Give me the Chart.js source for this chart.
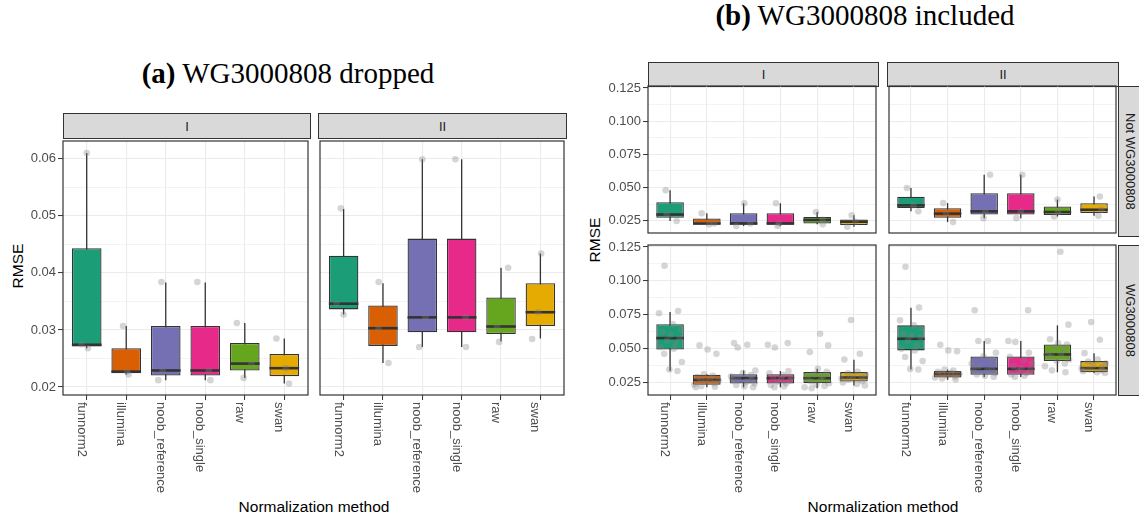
<!DOCTYPE html>
<html>
<head>
<meta charset="utf-8">
<script src="https://cdn.jsdelivr.net/npm/chart.js@4.4.0/dist/chart.umd.min.js"></script>
<style>
  body { margin: 0; background: #fff; }
  #page { position: relative; width: 1139px; height: 517px; overflow: hidden; font-family: "Liberation Sans", Arial, sans-serif; }
  canvas { position: absolute; }
  .title { position: absolute; font-family: "Liberation Serif", "Times New Roman", serif; font-size: 29px; line-height: 29px; white-space: nowrap; transform: translateX(-50%); color: #000; }
  .strip { position: absolute; box-sizing: border-box; background: #D9D9D9; border: 1px solid #333; color: #1A1A1A; font-size: 13px; display: flex; align-items: center; justify-content: center; }
  .side { writing-mode: vertical-rl; }
  .axis-title { position: absolute; font-size: 15.5px; color: #000; white-space: nowrap; transform: translate(-50%, -50%); }
</style>
</head>
<body>
<div id="page">
  <div class="title" style="left:288px; top:59px;"><b>(a)</b> WG3000808 dropped</div>
  <div class="title" style="left:865px; top:1px;"><b>(b)</b> WG3000808 included</div>

  <div class="strip" style="left:63px; top:113px; width:248px; height:26px;">I</div>
  <div class="strip" style="left:318px; top:113px; width:249px; height:26px;">II</div>
  <div class="strip" style="left:648px; top:62px; width:231px; height:25px;">I</div>
  <div class="strip" style="left:887px; top:62px; width:232px; height:25px;">II</div>
  <div class="strip side" style="left:1118px; top:86px; width:24px; height:151px;">Not WG3000808</div>
  <div class="strip side" style="left:1118px; top:245px; width:24px; height:151px;">WG3000808</div>

  <div class="axis-title" style="left:18px; top:266px; transform: translate(-50%,-50%) rotate(-90deg);">RMSE</div>
  <div class="axis-title" style="left:595px; top:240px; transform: translate(-50%,-50%) rotate(-90deg);">RMSE</div>
  <div class="axis-title" style="left:314px; top:507px;">Normalization method</div>
  <div class="axis-title" style="left:883px; top:507px;">Normalization method</div>

  <canvas id="aI" width="312" height="380" style="left:0px; top:137px;"></canvas>
  <canvas id="aII" width="252" height="380" style="left:316px; top:137px;"></canvas>
  <canvas id="bIt" width="300" height="162" style="left:580px; top:75px;"></canvas>
  <canvas id="bIIt" width="235" height="162" style="left:885px; top:75px;"></canvas>
  <canvas id="bIb" width="300" height="282" style="left:580px; top:235px;"></canvas>
  <canvas id="bIIb" width="235" height="282" style="left:885px; top:235px;"></canvas>
</div>

<script>
const FONT = '"Liberation Sans", Arial, sans-serif'

const categories = ['funnorm2', 'illumina', 'noob_reference', 'noob_single', 'raw', 'swan']
const boxColors = ['#1B9E77', '#D95F02', '#7570B3', '#E7298A', '#66A61E', '#E6AB02']

// y axis of figure (a)
const yMajorA = [0.02, 0.03, 0.04, 0.05, 0.06]
const yLabelsA = ['0.02', '0.03', '0.04', '0.05', '0.06']
const yMinorA = [0.025, 0.035, 0.045, 0.055]
const yRangeA = [0.0186, 0.0631]

// y axis of figure (b)
const yMajorB = [0.025, 0.05, 0.075, 0.1, 0.125]
const yLabelsB = ['0.025', '0.050', '0.075', '0.100', '0.125']
const yMinorB = [0.0375, 0.0625, 0.0875, 0.1125]
const yRangeB = [0.0158, 0.1265]

// box stats: [lower whisker, q1, median, q3, upper whisker]
const droppedI_stats = [
  [0.0268, 0.0271, 0.0274, 0.0443, 0.0610],
  [0.0222, 0.0224, 0.0227, 0.0268, 0.0307],
  [0.0212, 0.0220, 0.0229, 0.0307, 0.0383],
  [0.0212, 0.0220, 0.0229, 0.0307, 0.0383],
  [0.0216, 0.0229, 0.0241, 0.0277, 0.0312],
  [0.0206, 0.0219, 0.0233, 0.0258, 0.0285]
]
const droppedI_points = [
  [0.0610, 0.0275, 0.0268],
  [0.0307, 0.0227, 0.0222],
  [0.0384, 0.0229, 0.0212],
  [0.0384, 0.0229, 0.0212],
  [0.0312, 0.0241, 0.0216],
  [0.0285, 0.0233, 0.0206]
]
const droppedI_jitter = [
  [0.0, -0.13, 0.03],
  [-0.08, 0.02, 0.06],
  [-0.11, -0.08, -0.19],
  [-0.2, 0.09, 0.13],
  [-0.2, 0.17, -0.03],
  [-0.2, 0.04, 0.12]
]

const droppedII_stats = [
  [0.0327, 0.0336, 0.0346, 0.0430, 0.0512],
  [0.0242, 0.0272, 0.0303, 0.0343, 0.0382],
  [0.0270, 0.0296, 0.0322, 0.0460, 0.0599],
  [0.0270, 0.0296, 0.0322, 0.0460, 0.0599],
  [0.0280, 0.0293, 0.0306, 0.0357, 0.0409],
  [0.0285, 0.0307, 0.0331, 0.0382, 0.0434]
]
const droppedII_points = [
  [0.0513, 0.0346, 0.0327],
  [0.0384, 0.0303, 0.0242],
  [0.0599, 0.0322, 0.0270],
  [0.0599, 0.0322, 0.0270],
  [0.0409, 0.0306, 0.0279],
  [0.0434, 0.0331, 0.0284]
]
const droppedII_jitter = [
  [-0.07, -0.18, 0.0],
  [-0.11, -0.11, 0.14],
  [0.0, 0.08, -0.08],
  [-0.16, 0.1, 0.11],
  [0.18, -0.1, -0.05],
  [0.02, -0.06, -0.21]
]

const notWgI_stats = [
  [0.0248, 0.0272, 0.0297, 0.0390, 0.0480],
  [0.0222, 0.0226, 0.0229, 0.0267, 0.0306],
  [0.0211, 0.0221, 0.0230, 0.0307, 0.0382],
  [0.0211, 0.0221, 0.0230, 0.0307, 0.0382],
  [0.0223, 0.0230, 0.0257, 0.0279, 0.0316],
  [0.0206, 0.0218, 0.0243, 0.0260, 0.0292]
]
const notWgI_points = [
  [0.0480, 0.0297, 0.0248],
  [0.0306, 0.0229, 0.0222],
  [0.0382, 0.0230, 0.0211],
  [0.0382, 0.0230, 0.0211],
  [0.0316, 0.0257, 0.0223],
  [0.0292, 0.0243, 0.0206]
]
const notWgI_jitter = [
  [-0.12, -0.09, 0.18],
  [-0.14, 0.2, 0.06],
  [0.02, 0.18, -0.2],
  [-0.12, -0.04, -0.08],
  [-0.03, 0.15, 0.15],
  [-0.06, 0.04, -0.18]
]

const notWgII_stats = [
  [0.0321, 0.0346, 0.0366, 0.0431, 0.0497],
  [0.0240, 0.0272, 0.0304, 0.0345, 0.0383],
  [0.0270, 0.0297, 0.0321, 0.0458, 0.0597],
  [0.0270, 0.0297, 0.0321, 0.0458, 0.0597],
  [0.0282, 0.0294, 0.0316, 0.0358, 0.0410],
  [0.0288, 0.0309, 0.0333, 0.0382, 0.0433]
]
const notWgII_points = [
  [0.0497, 0.0366, 0.0321],
  [0.0383, 0.0304, 0.0240],
  [0.0597, 0.0321, 0.0270],
  [0.0597, 0.0321, 0.0270],
  [0.0410, 0.0316, 0.0282],
  [0.0433, 0.0333, 0.0288]
]
const notWgII_jitter = [
  [-0.11, 0.07, 0.2],
  [-0.12, -0.04, 0.15],
  [0.16, 0.03, -0.02],
  [0.04, 0.0, -0.12],
  [0.0, 0.02, -0.09],
  [0.16, 0.2, 0.12]
]

const wgI_stats = [
  [0.0335, 0.0494, 0.0578, 0.0680, 0.0771],
  [0.0215, 0.0233, 0.0270, 0.0307, 0.0312],
  [0.0215, 0.0243, 0.0282, 0.0312, 0.0339],
  [0.0215, 0.0243, 0.0282, 0.0312, 0.0335],
  [0.0208, 0.0245, 0.0282, 0.0327, 0.0351],
  [0.0228, 0.0257, 0.0287, 0.0327, 0.0418]
]
const wgI_points = [
  [0.1112, 0.0778, 0.0761, 0.0680, 0.0643, 0.0623, 0.0603, 0.0578, 0.0560, 0.0536, 0.0512, 0.0499, 0.0462, 0.0401, 0.0346, 0.0335],
  [0.0524, 0.0494, 0.0462, 0.0310, 0.0300, 0.0290, 0.0280, 0.0272, 0.0265, 0.0255, 0.0245, 0.0235, 0.0225, 0.0218, 0.0215],
  [0.0541, 0.0529, 0.0509, 0.0339, 0.0320, 0.0305, 0.0295, 0.0285, 0.0278, 0.0268, 0.0255, 0.0245, 0.0232, 0.0222, 0.0215],
  [0.0541, 0.0529, 0.0509, 0.0335, 0.0318, 0.0305, 0.0293, 0.0285, 0.0276, 0.0266, 0.0255, 0.0244, 0.0232, 0.0222, 0.0215],
  [0.0610, 0.0524, 0.0475, 0.0351, 0.0330, 0.0310, 0.0295, 0.0282, 0.0270, 0.0258, 0.0245, 0.0235, 0.0225, 0.0215, 0.0208],
  [0.0712, 0.0462, 0.0420, 0.0330, 0.0318, 0.0305, 0.0295, 0.0287, 0.0280, 0.0270, 0.0260, 0.0250, 0.0240, 0.0228]
]

const wgII_stats = [
  [0.0346, 0.0487, 0.0573, 0.0672, 0.0801],
  [0.0270, 0.0287, 0.0314, 0.0336, 0.0346],
  [0.0290, 0.0307, 0.0351, 0.0443, 0.0556],
  [0.0290, 0.0307, 0.0351, 0.0443, 0.0556],
  [0.0326, 0.0408, 0.0457, 0.0531, 0.0672],
  [0.0320, 0.0326, 0.0356, 0.0408, 0.0467]
]
const wgII_points = [
  [0.1104, 0.0803, 0.0709, 0.0672, 0.0650, 0.0610, 0.0598, 0.0586, 0.0560, 0.0524, 0.0500, 0.0487, 0.0438, 0.0408, 0.0350, 0.0346],
  [0.0529, 0.0487, 0.0480, 0.0346, 0.0338, 0.0330, 0.0322, 0.0316, 0.0310, 0.0302, 0.0295, 0.0287, 0.0280, 0.0272],
  [0.0783, 0.0556, 0.0556, 0.0470, 0.0443, 0.0420, 0.0390, 0.0370, 0.0355, 0.0345, 0.0335, 0.0320, 0.0310, 0.0300, 0.0292],
  [0.0783, 0.0556, 0.0550, 0.0470, 0.0440, 0.0415, 0.0392, 0.0372, 0.0355, 0.0345, 0.0333, 0.0320, 0.0310, 0.0300, 0.0292],
  [0.1215, 0.0677, 0.0569, 0.0540, 0.0531, 0.0510, 0.0490, 0.0465, 0.0455, 0.0440, 0.0420, 0.0408, 0.0390, 0.0371, 0.0340, 0.0326],
  [0.0696, 0.0566, 0.0467, 0.0420, 0.0405, 0.0390, 0.0375, 0.0362, 0.0355, 0.0348, 0.0340, 0.0333, 0.0326, 0.0320]
]

// fixed jitter offsets (category units) for the many-point panels
const jitterPattern = [-0.15, 0.22, -0.3, 0.08, 0.3, -0.2, 0.02, 0.26, -0.08, 0.16, -0.26, 0.1, -0.16, 0.32, -0.02, 0.2, -0.34]

function patternJitter(points) {
  return points.map((vals, i) => vals.map((v, j) => jitterPattern[(j + 5 * i) % jitterPattern.length]))
}

// draws median lines, the panel frame and the rotated category labels
const panelExtras = {
  id: 'panelExtras',
  afterDatasetDraw(chart, args, opts) {
    if (args.index !== 1) return
    const ctx = chart.ctx
    const y = chart.scales.y
    ctx.save()
    ctx.strokeStyle = '#333333'
    ctx.lineWidth = 2.6
    args.meta.data.forEach((bar, i) => {
      const py = y.getPixelForValue(opts.medians[i])
      ctx.beginPath()
      ctx.moveTo(bar.x - bar.width / 2, py)
      ctx.lineTo(bar.x + bar.width / 2, py)
      ctx.stroke()
    })
    ctx.restore()
  },
  afterDraw(chart, args, opts) {
    const ctx = chart.ctx
    const a = chart.chartArea
    ctx.save()
    ctx.strokeStyle = '#333333'
    ctx.lineWidth = 1.2
    ctx.strokeRect(a.left, a.top, a.right - a.left, a.bottom - a.top)
    if (opts.xLabels) {
      const xs = chart.scales.x
      ctx.fillStyle = '#4D4D4D'
      ctx.font = '13px ' + FONT
      ctx.textAlign = 'left'
      ctx.textBaseline = 'top'
      categories.forEach((c, i) => {
        ctx.save()
        ctx.translate(xs.getPixelForValue(i) + 1, a.bottom + 7)
        ctx.rotate(Math.PI / 2)
        ctx.fillText(c, 0, 0)
        ctx.restore()
      })
    }
    ctx.restore()
  }
}

function drawPanel(id, p) {
  const ctx = document.getElementById(id).getContext('2d')
  const allY = p.yMajor.concat(p.yMinor).sort((a, b) => a - b)
  const isMajor = v => p.yMajor.indexOf(v) >= 0

  const pointData = []
  p.points.forEach((vals, i) => vals.forEach((v, j) => pointData.push({ x: i + p.jitter[i][j], y: v })))

  return new Chart(ctx, {
    type: 'bar',
    data: {
      datasets: [
        {
          type: 'bar',
          data: p.stats.map((s, i) => ({ x: i, y: [s[0], s[4]] })),
          backgroundColor: '#333333',
          borderWidth: 0,
          maxBarThickness: 1.3,
          grouped: false,
          order: 3
        },
        {
          type: 'bar',
          data: p.stats.map((s, i) => ({ x: i, y: [s[1], s[3]] })),
          backgroundColor: boxColors,
          borderColor: '#333333',
          borderWidth: 1.3,
          borderSkipped: false,
          grouped: false,
          categoryPercentage: 1,
          barPercentage: 0.75,
          order: 2
        },
        {
          type: 'scatter',
          data: pointData,
          pointRadius: 3.3,
          pointBackgroundColor: 'rgba(127,127,127,0.33)',
          pointBorderWidth: 0,
          order: 1
        }
      ]
    },
    options: {
      responsive: false,
      animation: false,
      devicePixelRatio: 1,
      events: [],
      layout: { padding: { top: p.padTop, right: 2, left: 0, bottom: 0 } },
      plugins: {
        legend: { display: false },
        tooltip: { enabled: false },
        panelExtras: { medians: p.stats.map(s => s[2]), xLabels: p.xLabels }
      },
      scales: {
        x: {
          type: 'linear',
          min: -0.6,
          max: 5.6,
          offset: false,
          afterBuildTicks: axis => { axis.ticks = categories.map((c, i) => ({ value: i })) },
          afterFit: axis => { axis.height = p.xHeight; axis.paddingLeft = 0; axis.paddingRight = 0 },
          ticks: { display: false, autoSkip: false },
          grid: { offset: false, color: '#EBEBEB', lineWidth: 1.1, drawTicks: p.xLabels, tickLength: 5, tickColor: '#333333', tickWidth: 1 },
          border: { display: false }
        },
        y: {
          type: 'linear',
          min: p.yRange[0],
          max: p.yRange[1],
          afterBuildTicks: axis => { axis.ticks = allY.map(v => ({ value: v })) },
          afterFit: axis => { axis.width = p.yWidth; axis.paddingTop = 0; axis.paddingBottom = 0 },
          ticks: {
            display: p.yLabels !== null,
            autoSkip: false,
            padding: 2,
            color: '#4D4D4D',
            font: { size: 13, family: FONT },
            callback: v => {
              const k = p.yMajor.indexOf(v)
              return (k >= 0 && p.yLabels) ? p.yLabels[k] : ''
            }
          },
          grid: {
            color: '#EBEBEB',
            lineWidth: c => isMajor(c.tick.value) ? 1.1 : 0.6,
            drawTicks: p.yLabels !== null,
            tickLength: 5,
            tickColor: c => isMajor(c.tick.value) ? '#333333' : 'rgba(0,0,0,0)',
            tickWidth: 1
          },
          border: { display: false }
        }
      }
    },
    plugins: [panelExtras]
  })
}

const axisA = { yMajor: yMajorA, yMinor: yMinorA, yRange: yRangeA }
const axisB = { yMajor: yMajorB, yMinor: yMinorB, yRange: yRangeB }

drawPanel('aI', Object.assign({}, axisA, { stats: droppedI_stats, points: droppedI_points, jitter: droppedI_jitter,
  yLabels: yLabelsA, yWidth: 63, xHeight: 122, padTop: 1, xLabels: true }))
drawPanel('aII', Object.assign({}, axisA, { stats: droppedII_stats, points: droppedII_points, jitter: droppedII_jitter,
  yLabels: null, yWidth: 2, xHeight: 122, padTop: 1, xLabels: true }))
drawPanel('bIt', Object.assign({}, axisB, { stats: notWgI_stats, points: notWgI_points, jitter: notWgI_jitter,
  yLabels: yLabelsB, yWidth: 68, xHeight: 1, padTop: 11, xLabels: false }))
drawPanel('bIIt', Object.assign({}, axisB, { stats: notWgII_stats, points: notWgII_points, jitter: notWgII_jitter,
  yLabels: null, yWidth: 2, xHeight: 1, padTop: 11, xLabels: false }))
drawPanel('bIb', Object.assign({}, axisB, { stats: wgI_stats, points: wgI_points, jitter: patternJitter(wgI_points),
  yLabels: yLabelsB, yWidth: 68, xHeight: 122, padTop: 10, xLabels: true }))
drawPanel('bIIb', Object.assign({}, axisB, { stats: wgII_stats, points: wgII_points, jitter: patternJitter(wgII_points),
  yLabels: null, yWidth: 2, xHeight: 122, padTop: 10, xLabels: true }))
</script>
</body>
</html>
